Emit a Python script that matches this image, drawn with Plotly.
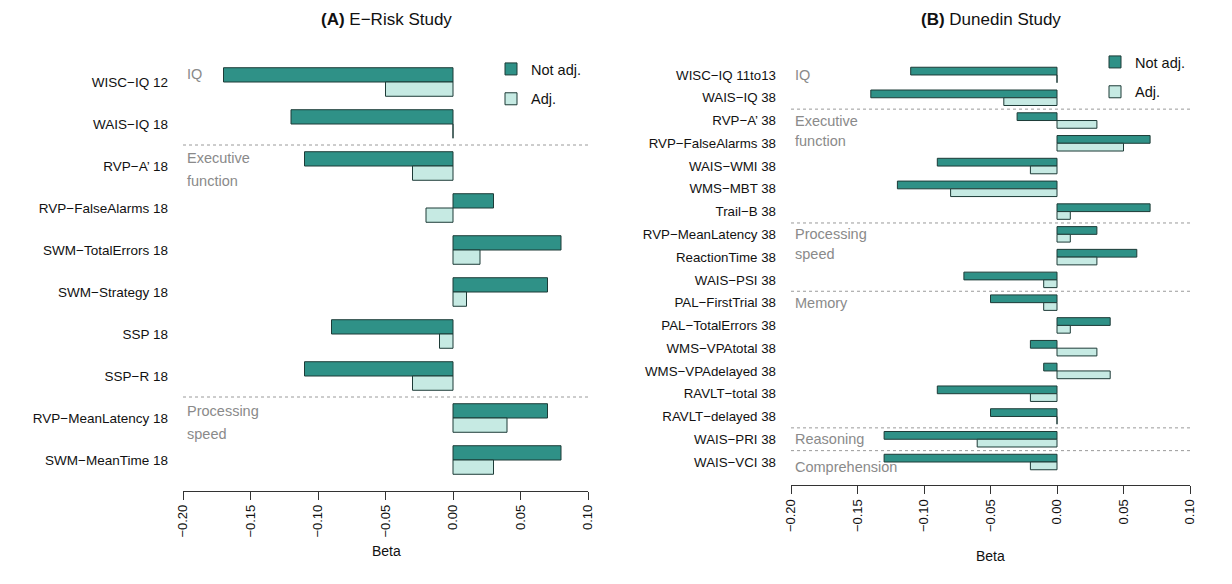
import plotly.graph_objects as go

# ---------------- data ----------------
erisk_measures = ["WISC−IQ 12", "WAIS−IQ 18", "RVP−A’ 18", "RVP−FalseAlarms 18",
                  "SWM−TotalErrors 18", "SWM−Strategy 18", "SSP 18", "SSP−R 18",
                  "RVP−MeanLatency 18", "SWM−MeanTime 18"]
erisk_not_adj = [-0.17, -0.12, -0.11, 0.03, 0.08, 0.07, -0.09, -0.11, 0.07, 0.08]
erisk_adj = [-0.05, 0.00, -0.03, -0.02, 0.02, 0.01, -0.01, -0.03, 0.04, 0.03]
erisk_group_names = ["IQ", "Executive<br>function", "Processing<br>speed"]
erisk_group_start = [0, 2, 8]

dunedin_measures = ["WISC−IQ 11to13", "WAIS−IQ 38", "RVP−A’ 38", "RVP−FalseAlarms 38",
                    "WAIS−WMI 38", "WMS−MBT 38", "Trail−B 38", "RVP−MeanLatency 38",
                    "ReactionTime 38", "WAIS−PSI 38", "PAL−FirstTrial 38",
                    "PAL−TotalErrors 38", "WMS−VPAtotal 38", "WMS−VPAdelayed 38",
                    "RAVLT−total 38", "RAVLT−delayed 38", "WAIS−PRI 38", "WAIS−VCI 38"]
dunedin_not_adj = [-0.11, -0.14, -0.03, 0.07, -0.09, -0.12, 0.07, 0.03, 0.06, -0.07,
                   -0.05, 0.04, -0.02, -0.01, -0.09, -0.05, -0.13, -0.13]
dunedin_adj = [0.00, -0.04, 0.03, 0.05, -0.02, -0.08, 0.01, 0.01, 0.03, -0.01,
               -0.01, 0.01, 0.03, 0.04, -0.02, 0.00, -0.06, -0.02]
dunedin_group_names = ["IQ", "Executive<br>function", "Processing<br>speed", "Memory",
                       "Reasoning", "Comprehension"]
dunedin_group_start = [0, 2, 7, 10, 16, 17]

series_names = ["Not adj.", "Adj."]
tick_vals = [-0.20, -0.15, -0.10, -0.05, 0.00, 0.05, 0.10]
tick_text = ["−0.20", "−0.15", "−0.10", "−0.05", "0.00", "0.05", "0.10"]
panel_titles = ["<b>(A)</b> E−Risk Study", "<b>(B)</b> Dunedin Study"]

# ---------------- style ----------------
W, H = 1232, 584
OFF = 8  # page body margin in the browser
FONT = "Liberation Sans, Arial, Helvetica, sans-serif"
TEAL = "#2f9187"
LIGHT = "#c6eae3"
EDGE = "#1d3b37"
GREY = "#8a8a8a"


def px_x(p):
    return (p - OFF) / W


def px_y(p):
    return 1 - (p - OFF) / H


fig = go.Figure()

panels = [
    dict(measures=erisk_measures, vals=[erisk_not_adj, erisk_adj],
         gnames=erisk_group_names, gstart=erisk_group_start,
         xax="x", yax="y", legend="legend",
         xdom=[px_x(183), px_x(588)], ydom=[px_y(490.5), px_y(61)],
         ybottom_extra=(490.5 - 481) / 42.0, lab_shift=[8, 8, 7], lab_font=14.5,
         tick_font=13.5, spacing=23,
         title_x=px_x(386), beta_y=px_y(551),
         legend_xy=(px_x(491), px_y(53))),
    dict(measures=dunedin_measures, vals=[dunedin_not_adj, dunedin_adj],
         gnames=dunedin_group_names, gstart=dunedin_group_start,
         xax="x2", yax="y2", legend="legend2",
         xdom=[px_x(791), px_x(1190)], ydom=[px_y(485), px_y(63.6)],
         ybottom_extra=(485 - 473.4) / 22.76, lab_shift=[0, 0, 0, 0, 0, -5], lab_font=14.5,
         tick_font=13.3, spacing=20,
         title_x=px_x(990.5), beta_y=px_y(556),
         legend_xy=(px_x(1095), px_y(46))),
]

colors = [TEAL, LIGHT]
annotations = []
shapes = []

legend_common = dict(bgcolor="rgba(0,0,0,0)", borderwidth=0, traceorder="grouped",
                     tracegroupgap=8, font=dict(family=FONT, size=14.5, color="#111"),
                     xanchor="left", yanchor="top")

for i, p in enumerate(panels):
    for s, name in enumerate(series_names):
        fig.add_trace(go.Bar(
            x=p["vals"][s], y=p["measures"], orientation="h", name=name,
            marker=dict(color=colors[s], line=dict(color=EDGE, width=1)),
            xaxis=p["xax"], yaxis=p["yax"], legend=p["legend"],
            legendgroup=f"{p['legend']}_{s}", showlegend=True,
            hovertemplate="%{y}: %{x}<extra>" + name + "</extra>",
        ))
    n = len(p["measures"])
    xa = "xaxis" if p["xax"] == "x" else "xaxis2"
    ya = "yaxis" if p["yax"] == "y" else "yaxis2"
    fig.update_layout(**{
        xa: dict(domain=p["xdom"], range=[-0.2, 0.1], anchor=p["yax"],
                 tickvals=tick_vals, ticktext=tick_text, tickangle=-90,
                 ticks="outside", ticklen=8, tickwidth=1, tickcolor="#333",
                 showline=True, linecolor="#333", linewidth=1,
                 showgrid=False, zeroline=False, automargin=False,
                 tickfont=dict(family=FONT, size=13, color="#111")),
        ya: dict(domain=p["ydom"], type="category", categoryorder="array",
                 categoryarray=p["measures"], range=[n - 0.5 + p["ybottom_extra"], -0.5],
                 anchor=p["xax"], showgrid=False, zeroline=False, showline=False,
                 ticks="", ticklabelstandoff=14, automargin=False,
                 tickfont=dict(family=FONT, size=p["tick_font"], color="#111")),
        p["legend"]: dict(x=p["legend_xy"][0], y=p["legend_xy"][1], **legend_common),
    })
    # separators between groups
    for g in p["gstart"][1:]:
        shapes.append(dict(type="line", xref=f"{p['xax']} domain", yref=p["yax"],
                           x0=0, x1=1, y0=g - 0.5, y1=g - 0.5,
                           line=dict(color="#9a9a9a", width=1, dash="3px,3px")))
    # group labels
    for k, (gname, g) in enumerate(zip(p["gnames"], p["gstart"])):
        lines = gname.split("<br>")
        for li, line in enumerate(lines):
            annotations.append(dict(
                text=line, xref=f"{p['xax']} domain", yref=p["yax"],
                x=0, y=p["measures"][g], xanchor="left", yanchor="middle",
                xshift=2, yshift=p["lab_shift"][k] - li * p["spacing"], showarrow=False,
                font=dict(family=FONT, size=p["lab_font"], color=GREY)))
    # title
    annotations.append(dict(text=panel_titles[i], xref="paper", yref="paper",
                            x=p["title_x"], y=px_y(20), xanchor="center", yanchor="middle",
                            showarrow=False, font=dict(family=FONT, size=17, color="#111")))
    # axis title
    annotations.append(dict(text="Beta", xref="paper", yref="paper",
                            x=p["title_x"], y=p["beta_y"], xanchor="center", yanchor="middle",
                            showarrow=False, font=dict(family=FONT, size=14, color="#111")))

fig.update_layout(
    width=W, height=H,
    margin=dict(l=0, r=0, t=0, b=0),
    paper_bgcolor="white", plot_bgcolor="white",
    barmode="group", bargap=0.32, bargroupgap=0,
    font=dict(family=FONT, size=13, color="#111"),
    annotations=annotations,
    shapes=shapes,
)

fig.write_html("out.html")
